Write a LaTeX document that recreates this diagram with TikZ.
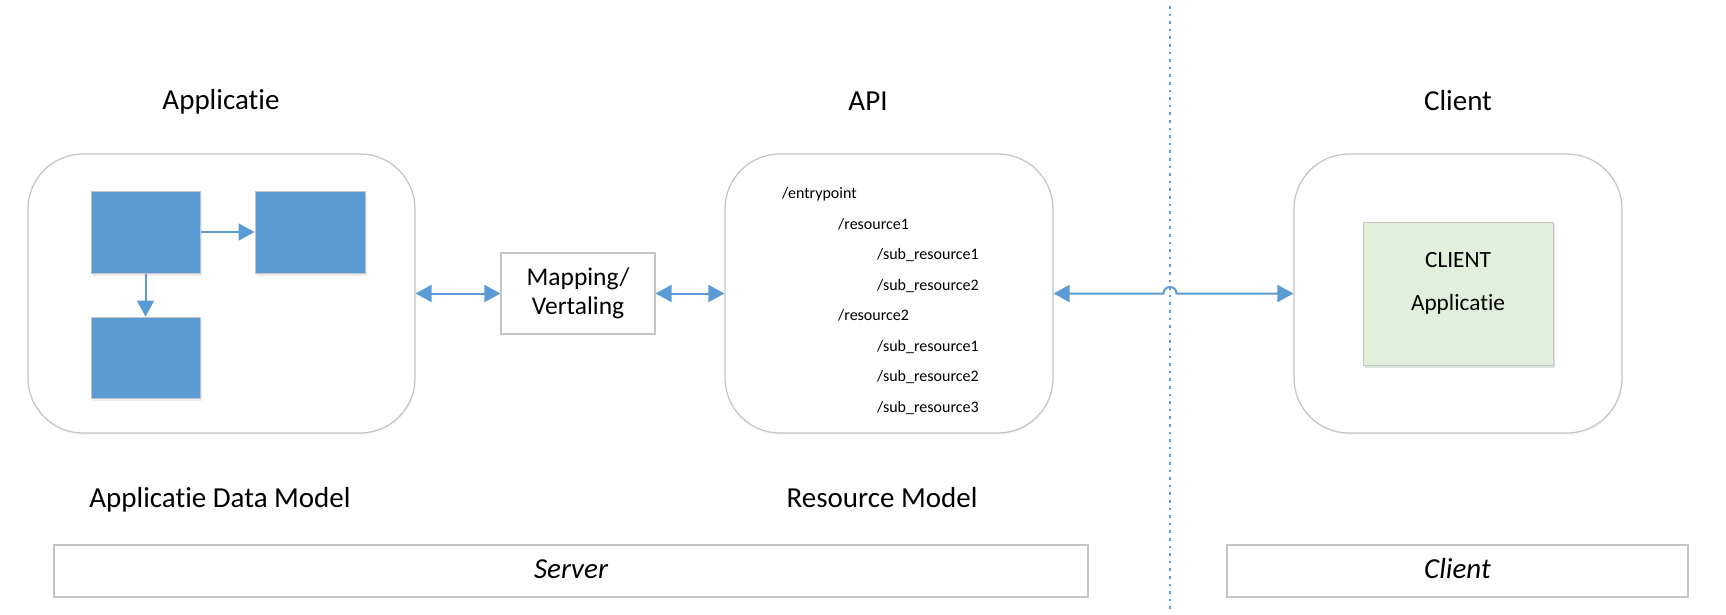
\documentclass[tikz,border=0pt]{standalone}
\usepackage{fontspec}
\setmainfont{Carlito}[Ligatures=NoCommon]
\usetikzlibrary{arrows.meta,shadows}
\definecolor{arrowblue}{HTML}{5B9BD5}
\definecolor{boxgray}{HTML}{C4C4C4}
\definecolor{lightgreen}{HTML}{E2EFDA}
\tikzset{
  roundbox/.style={draw=boxgray, line width=1.2pt, rounded corners=55pt, fill=white, inner sep=0pt,
    drop shadow={opacity=0.06, shadow xshift=1pt, shadow yshift=-2pt}},
  plainbox/.style={draw=boxgray, line width=1.2pt, fill=white, inner sep=0pt},
  bluebox/.style={draw=boxgray, line width=1pt, fill=arrowblue, inner sep=0pt,
    drop shadow={opacity=0.15, shadow xshift=1.5pt, shadow yshift=-3pt}},
  greenbox/.style={draw=boxgray, line width=1pt, fill=lightgreen, inner sep=0pt,
    drop shadow={opacity=0.15, fill=green!40!black, shadow xshift=1.5pt, shadow yshift=-3pt}},
  conn/.style={draw=arrowblue, line width=2pt, arrows={-Triangle[length=16pt,width=17pt]}},
  biconn/.style={draw=arrowblue, line width=2pt, arrows={Triangle[length=16pt,width=17pt]-Triangle[length=16pt,width=17pt]}},
  biglabel/.style={font=\fontsize{29}{33}\selectfont, anchor=base, inner sep=0pt},
  pathlabel/.style={font=\fontsize{16}{19}\selectfont, anchor=base west, inner sep=0pt},
}
\begin{document}
\begin{tikzpicture}[x=1pt,y=-1pt]
\useasboundingbox[fill=white] (0,0) rectangle (1726,614);

% dotted separator
\coordinate (septop) at (1170,6);
\coordinate (sepbot) at (1170,612);
\draw[arrowblue, line width=2.6pt, dash pattern=on 2.6pt off 5pt] (septop) -- (sepbot);

% titles
\node[biglabel] (tapp) at (221,109) {Applicatie};
\node[biglabel] (tapi) at (868,110) {API};
\node[biglabel] (tcli) at (1458,110) {Client};

% main boxes
\node[roundbox, minimum width=387pt, minimum height=279pt] (app) at (221.5,293.5) {};
\node[roundbox, minimum width=328pt, minimum height=279pt] (api) at (889,293.5) {};
\node[roundbox, minimum width=328pt, minimum height=279pt] (cli) at (1458,293.5) {};

% mapping box
\node[plainbox, minimum width=154pt, minimum height=81pt, align=center,
      font=\fontsize{25.5}{28.5}\selectfont] (map) at (578,293.5) {Mapping/\\Vertaling};

% blue boxes
\node[bluebox, minimum width=109pt, minimum height=82pt] (b1) at (145.5,232) {};
\node[bluebox, minimum width=110pt, minimum height=82pt] (b2) at (310,232) {};
\node[bluebox, minimum width=109pt, minimum height=81pt] (b3) at (145.5,357.5) {};
\draw[conn] (b1.east) -- (b2.west);
\draw[conn] (b1.south) -- (b3.north);

% resource list
\node[pathlabel] (e0) at (782,198) {/entrypoint};
\node[pathlabel] (e1) at (838,229) {/resource1};
\node[pathlabel] (e2) at (877,259) {/sub\_resource1};
\node[pathlabel] (e3) at (877,290) {/sub\_resource2};
\node[pathlabel] (e4) at (838,320) {/resource2};
\node[pathlabel] (e5) at (877,351) {/sub\_resource1};
\node[pathlabel] (e6) at (877,381) {/sub\_resource2};
\node[pathlabel] (e7) at (877,412) {/sub\_resource3};

% client app
\node[greenbox, minimum width=190pt, minimum height=143pt] (capp) at (1458,293.5) {};
\node[font=\fontsize{23.3}{27}\selectfont, anchor=base, inner sep=0pt] (cl1) at (1458,267) {CLIENT};
\node[font=\fontsize{23.3}{27}\selectfont, anchor=base, inner sep=0pt] (cl2) at (1458,310) {Applicatie};

% connectors
\draw[biconn] (app.east) -- (map.west);
\draw[biconn] (map.east) -- (api.west);
\coordinate (hopL) at (1163.5,293.5);
\draw[biconn] (api.east) -- (hopL) arc[start angle=180, end angle=0, radius=6.5pt] -- (cli.west);

% bottom labels
\node[biglabel] (dm) at (220,507) {Applicatie Data Model};
\node[biglabel] (rm) at (882,507) {Resource Model};

% bottom boxes
\node[plainbox, minimum width=1034pt, minimum height=52pt] (server) at (571,571) {};
\node[plainbox, minimum width=461pt, minimum height=52pt] (client) at (1457.5,571) {};
\node[biglabel, font=\fontsize{29}{33}\selectfont\itshape] (tserver) at (571,578) {Server};
\node[biglabel, font=\fontsize{29}{33}\selectfont\itshape] (tclient) at (1457.5,578) {Client};
\end{tikzpicture}
\end{document}
